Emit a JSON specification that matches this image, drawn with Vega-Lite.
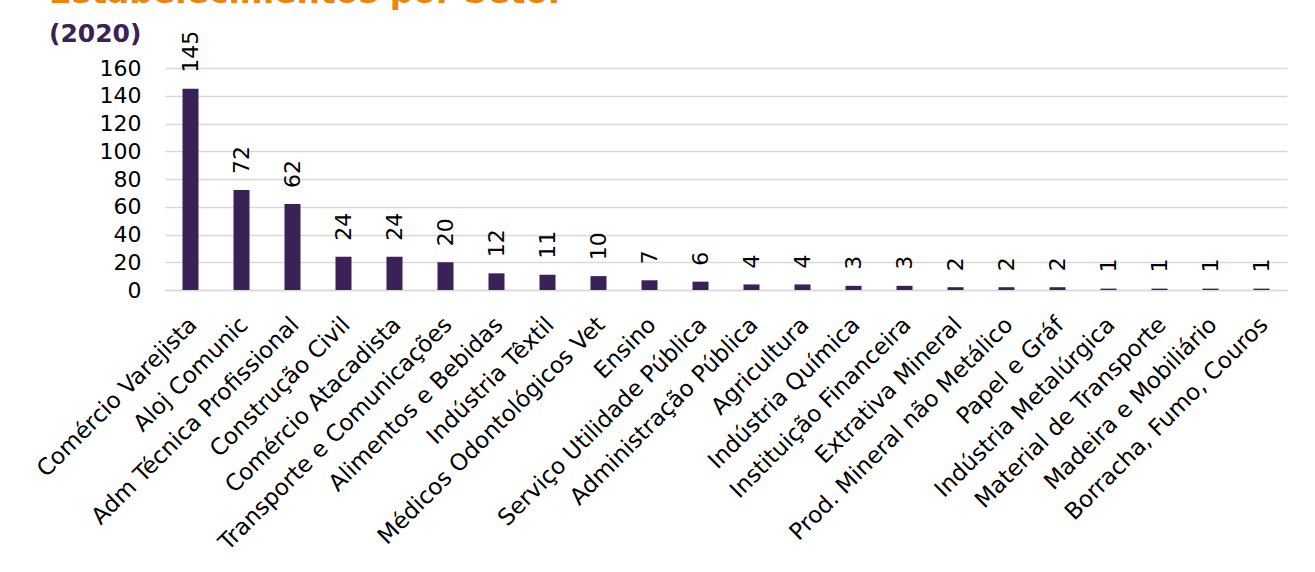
{
  "$schema": "https://vega.github.io/schema/vega-lite/v6.json",
  "autosize": {"type": "none"},
  "width": 1122,
  "height": 222,
  "padding": {"left": 165, "top": 68, "right": 28, "bottom": 282},
  "background": "white",
  "config": {
    "view": {"stroke": null},
    "font": "DejaVu Sans"
  },
  "title": {
    "text": "Estabelecimentos por Setor",
    "subtitle": "(2020)",
    "anchor": "start",
    "frame": "group",
    "dx": -116,
    "dy": 38,
    "offset": 22,
    "font": "DejaVu Sans",
    "fontSize": 33,
    "fontWeight": "bold",
    "color": "#f0820a",
    "subtitleFont": "DejaVu Sans",
    "subtitleFontSize": 25,
    "subtitleFontWeight": "bold",
    "subtitleColor": "#3a2157",
    "subtitlePadding": 12
  },
  "data": {
    "values": [
      {"setor": "Comércio Varejista", "n": 145},
      {"setor": "Aloj Comunic", "n": 72},
      {"setor": "Adm Técnica Profissional", "n": 62},
      {"setor": "Construção Civil", "n": 24},
      {"setor": "Comércio Atacadista", "n": 24},
      {"setor": "Transporte e Comunicações", "n": 20},
      {"setor": "Alimentos e Bebidas", "n": 12},
      {"setor": "Indústria Têxtil", "n": 11},
      {"setor": "Médicos Odontológicos Vet", "n": 10},
      {"setor": "Ensino", "n": 7},
      {"setor": "Serviço Utilidade Pública", "n": 6},
      {"setor": "Administração Pública", "n": 4},
      {"setor": "Agricultura", "n": 4},
      {"setor": "Indústria Química", "n": 3},
      {"setor": "Instituição Financeira", "n": 3},
      {"setor": "Extrativa Mineral", "n": 2},
      {"setor": "Prod. Mineral não Metálico", "n": 2},
      {"setor": "Papel e Gráf", "n": 2},
      {"setor": "Indústria Metalúrgica", "n": 1},
      {"setor": "Material de Transporte", "n": 1},
      {"setor": "Madeira e Mobiliário", "n": 1},
      {"setor": "Borracha, Fumo, Couros", "n": 1}
    ]
  },
  "encoding": {
    "x": {
      "field": "setor",
      "type": "nominal",
      "sort": null,
      "scale": {"paddingInner": 0.686, "paddingOuter": 0.343},
      "axis": {
        "title": null,
        "labelAngle": -45,
        "labelFontSize": 23,
        "labelColor": "#000000",
        "labelPadding": 23,
        "labelOffset": -5,
        "ticks": false,
        "domainColor": "#d9d9d9",
        "domainWidth": 1.5,
        "labelLimit": 400
      }
    },
    "y": {
      "field": "n",
      "type": "quantitative",
      "scale": {"domain": [0, 160], "nice": false},
      "axis": {
        "title": null,
        "values": [0, 20, 40, 60, 80, 100, 120, 140, 160],
        "labelFontSize": 22,
        "labelColor": "#000000",
        "labelPadding": 24,
        "ticks": false,
        "domain": false,
        "gridColor": "#d9d9d9",
        "gridWidth": 1.5
      }
    }
  },
  "layer": [
    {"mark": {"type": "bar", "color": "#3a2157"}},
    {
      "mark": {"type": "text", "angle": -90, "align": "left", "baseline": "middle", "dx": 16, "fontSize": 22, "color": "#000000"},
      "encoding": {"text": {"field": "n", "type": "quantitative"}}
    }
  ]
}
